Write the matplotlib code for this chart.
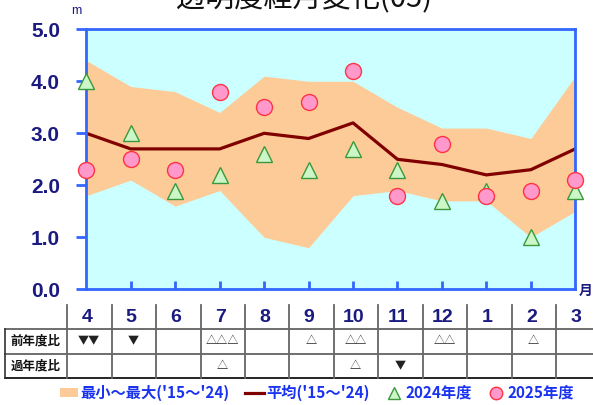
import numpy as np
import matplotlib
matplotlib.use("Agg")
import matplotlib.pyplot as plt
from matplotlib.lines import Line2D
from matplotlib.patches import Patch

# =========================
# DATA
# =========================
months = ["4", "5", "6", "7", "8", "9", "10", "11", "12", "1", "2", "3"]
band_max = [4.4, 3.9, 3.8, 3.4, 4.1, 4.0, 4.0, 3.5, 3.1, 3.1, 2.9, 4.1]
band_min = [1.8, 2.1, 1.6, 1.9, 1.0, 0.8, 1.8, 1.9, 1.7, 1.7, 1.0, 1.5]
mean_vals = [3.0, 2.7, 2.7, 2.7, 3.0, 2.9, 3.2, 2.5, 2.4, 2.2, 2.3, 2.7]
fy2024 = [4.0, 3.0, 1.9, 2.2, 2.6, 2.3, 2.7, 2.3, 1.7, 1.9, 1.0, 1.9]
fy2025 = [2.3, 2.5, 2.3, 3.8, 3.5, 3.6, 4.2, 1.8, 2.8, 1.8, 1.9, 2.1]
yticks = [0.0, 1.0, 2.0, 3.0, 4.0, 5.0]

prev_year = ["▼▼", "▼", "", "△△△", "", "△", "△△", "", "△△", "", "△", ""]
past_year = ["", "", "", "△", "", "", "△", "▼", "", "", "", ""]
row_labels = ["前年度比", "過年度比"]

title = "透明度経月変化(05)"
legend_labels = ["最小～最大('15～'24)", "平均('15～'24)", "2024年度", "2025年度"]

# =========================
# STYLE
# =========================
JP = ["Noto Sans CJK JP", "DejaVu Sans"]
NUM = ["Liberation Sans", "DejaVu Sans"]
AXIS_BLUE = "#3366ff"
NAVY = "#1a1a80"
W, H = 593, 405

fig = plt.figure(figsize=(W / 100, H / 100), dpi=100)

# =========================
# MAIN CHART
# =========================
ax = fig.add_axes([86.3 / W, 1 - 289.3 / H, 489 / W, 260 / H])
x = np.arange(len(months))
ax.set_facecolor("#ccffff")
ax.fill_between(x, band_min, band_max, color="#fccb98", lw=0, zorder=1)
ax.plot(x, mean_vals, color="#800000", lw=2.3, zorder=2)
ax.plot(x, fy2024, ls="none", marker="^", ms=12, mfc="#ccf5c8",
        mec="#3a9a3a", mew=1.0, zorder=3, clip_on=False)
ax.plot(x, fy2025, ls="none", marker="o", ms=11.5, mfc="#ff99cc",
        mec="#ff3344", mew=1.0, zorder=4, clip_on=False)

ax.set_xlim(0, len(months) - 1)
ax.set_ylim(0, 5)
ax.set_yticks(yticks)
ax.set_yticklabels([f"{v:.1f}" for v in yticks], fontsize=15,
                   fontweight="bold", color=NAVY, family=NUM)
ax.set_xticks(x[1:-1])
ax.set_xticklabels([])
ax.tick_params(axis="y", direction="out", length=7, width=2,
               color=AXIS_BLUE, pad=12)
ax.tick_params(axis="x", direction="in", length=6, width=2, color=AXIS_BLUE)
for s in ax.spines.values():
    s.set_color(AXIS_BLUE)
    s.set_linewidth(2)

fig.text(76 / W, 1 - 11 / H, "m", fontsize=9, color=NAVY, family=NUM,
         ha="center", va="center")
fig.text(586 / W, 1 - 291 / H, "月", fontsize=10, color=NAVY,
         fontweight="bold", family=JP, ha="center", va="center")
fig.text(304 / W, 1 - 7 / H, title, fontsize=21, family=JP,
         ha="center", va="baseline", color="#111111")

# =========================
# TABLE BELOW
# =========================
tb = fig.add_axes([86.3 / W, 1 - 380 / H, 489 / W, 77 / H])
tb.set_xlim(0, len(months) - 1)
tb.set_ylim(380, 303)
tb.axis("off")

x_left = (5 - 86.3) / 44.45
x_right = (600 - 86.3) / 44.45
row_y = [329.3, 353.7, 377.7]
for i, yy in enumerate(row_y):
    tb.plot([x_left, x_right], [yy, yy], color="#000000" if i == 2 else "#555555",
            lw=1.2, clip_on=False)
tb.plot([x_left, x_left], [row_y[0], row_y[2]], color="#333333", lw=1.2,
        clip_on=False)
for i in range(len(months) + 1):
    xb = i - 0.43
    tb.plot([xb, xb], [305, row_y[2]], color="#666666", lw=1.3, clip_on=False)

for i, m in enumerate(months):
    tb.text(i + 0.01, 317, m, fontsize=14, fontweight="bold", color=NAVY,
            family=NUM, ha="center", va="center", clip_on=False)
    tb.text(i + 0.06, 341.5, prev_year[i], fontsize=8, family=JP,
            color="#222222", ha="center", va="center")
    tb.text(i + 0.06, 366, past_year[i], fontsize=8, family=JP,
            color="#222222", ha="center", va="center")

for lab, yy in zip(row_labels, [341, 366]):
    tb.text((36 - 86.3) / 44.45, yy, lab, fontsize=9, fontweight="bold",
            family=JP, color="#111111", ha="center", va="center", clip_on=False)

# =========================
# LEGEND
# =========================
handles = [
    Patch(facecolor="#fccb98", edgecolor="none"),
    Line2D([], [], color="#800000", lw=2.3),
    Line2D([], [], ls="none", marker="^", ms=9, mfc="#ccf5c8", mec="#3a9a3a", mew=1.0),
    Line2D([], [], ls="none", marker="o", ms=9, mfc="#ff99cc", mec="#ff3344", mew=1.0),
]
leg = fig.legend(handles, legend_labels, ncol=4, loc="center",
                 bbox_to_anchor=(317 / W, 1 - 393 / H), frameon=False,
                 handlelength=1.2, handleheight=0.6, handletextpad=0.15,
                 columnspacing=1.0, borderpad=0,
                 prop={"family": JP, "size": 11, "weight": "bold"},
                 labelcolor="#1a33ee")

fig.savefig("out.png", dpi=100)
